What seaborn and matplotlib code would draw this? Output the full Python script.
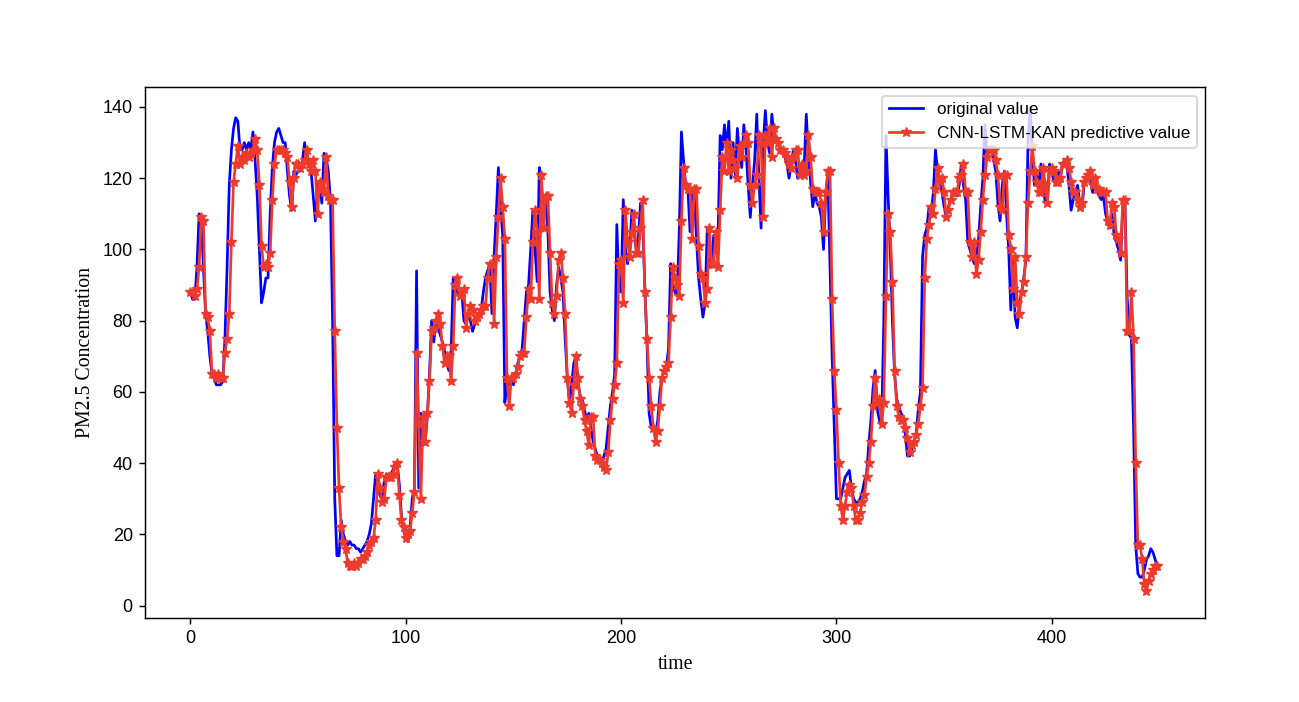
import matplotlib
matplotlib.use("Agg")
import matplotlib.pyplot as plt
import seaborn as sns
import pandas as pd

# PM2.5 series
original = [
    88, 86, 86, 95, 110, 109, 95, 82, 77, 70, 65, 64, 62, 62, 62, 63, 75, 95, 118, 128,
    134, 137, 136, 128, 128, 130, 128, 130, 128, 133, 125, 115, 100, 85, 88, 92, 92, 110, 123, 130,
    133,
    134, 132, 130, 130, 122, 115, 111, 122, 121, 122, 122, 125, 130, 125, 124, 122, 115, 108, 118, 119,
    113, 127, 126, 122, 114, 80, 30, 14, 14, 24, 20, 18, 17, 18, 17, 17, 16, 16, 15, 16,
    17, 18,
    20, 23, 30, 37, 35, 31, 30, 35, 37, 36, 37, 38, 40, 40, 34, 25, 21, 19, 18, 22,
    30, 33, 94, 33, 54, 45, 46, 53, 65, 80, 74, 80, 78, 76, 74, 72, 68, 66, 70, 92,
    90, 88,
    87, 88, 80, 79, 82, 80, 77, 79, 80, 82, 83, 88, 92, 94, 96, 82, 98, 110, 123, 112,
    104, 57, 63, 62, 64, 62, 65, 68, 70, 72, 80, 88, 90, 100, 111, 100, 91, 123, 118, 110,
    114,
    105, 88, 83, 80, 90, 95, 92, 88, 75, 64, 57, 62, 68, 70, 62, 59, 58, 55, 52, 54,
    50, 46, 44, 42, 41, 40, 42, 44, 50, 56, 60, 65, 107, 90, 88, 114, 100, 96, 100, 111,
    105, 100,
    103, 113, 108, 90, 74, 54, 50, 49, 48, 52, 60, 64, 66, 67, 72, 96, 90, 88, 87, 105,
    133, 125, 118, 117, 105, 117, 115, 103, 92, 86, 81, 85, 106, 95, 96, 104, 100, 103, 132, 128,
    135, 128,
    136, 120, 130, 121, 134, 126, 123, 135, 128, 118, 109, 118, 125, 138, 120, 106, 130, 139, 130, 127,
    138, 132, 130, 131, 128, 127, 126, 124, 120, 124, 128, 125, 120, 122, 121, 123, 138, 126, 119, 112,
    116, 113,
    112, 109, 100, 115, 121, 95, 70, 50, 30, 30, 30, 33, 36, 37, 38, 33, 30, 29, 29, 30,
    32, 35, 37, 45, 52, 61, 66, 55, 52, 51, 80, 132, 115, 100, 80, 65, 58, 56, 54, 53,
    48, 42,
    42, 44, 46, 48, 55, 60, 98, 104, 106, 112, 110, 116, 128, 122, 120, 116, 112, 109, 112, 114,
    115, 116, 115, 118, 124, 118, 114, 102, 100, 98, 96, 97, 103, 112, 120, 135, 126, 128, 129, 125,
    122, 113, 108, 118, 122, 110, 100, 83, 97, 81, 78, 85, 88, 92, 97, 131, 140,
    126, 118, 122, 116, 124, 118, 113, 114, 124, 122, 119, 121, 122, 120, 124, 125, 124, 118, 111, 114,
    116, 118, 113, 111, 118, 119, 122, 120, 116, 119, 117, 115, 114, 115, 110, 108, 106, 110, 104, 102,
    100, 97, 112, 113, 87, 76, 75, 50, 17, 9, 8, 8, 10, 13, 14, 16, 15, 13, 11,
]

predicted = [
    88, 88, 87, 89, 95, 109, 108, 82, 81, 77, 65, 65, 64, 65, 64, 64, 71, 75, 82, 102,
    119, 124, 129, 124, 126, 125, 127, 126, 127, 128, 131, 128, 118, 101, 95, 96, 95, 99, 114, 124,
    128,
    128, 128, 128, 127, 126, 119, 112, 120, 124, 124, 123, 124, 125, 128, 124, 122, 125, 122, 110, 119,
    117, 116, 126, 115, 114, 114, 77, 50, 33, 22, 18, 16, 12, 11, 11, 12, 11, 12, 13, 13,
    14, 15,
    17, 18, 19, 24, 37, 33, 29, 30, 36, 36, 36, 37, 39, 40, 31, 24, 22, 19, 20, 21,
    26, 32, 71, 51, 30, 53, 46, 54, 63, 77, 78, 80, 82, 79, 73, 68, 70, 70, 63, 73,
    90, 92,
    87, 88, 89, 78, 82, 84, 83, 80, 81, 82, 83, 84, 84, 92, 96, 96, 79, 98, 109, 120,
    112, 103, 64, 56, 64, 64, 65, 67, 70, 71, 71, 81, 89, 86, 102, 111, 105, 86, 121, 106,
    115,
    115, 99, 85, 82, 87, 97, 99, 92, 82, 64, 57, 54, 62, 70, 64, 58, 56, 52, 49, 45,
    53, 53, 42, 41, 41, 40, 39, 38, 43, 52, 58, 62, 68, 96, 97, 85, 111, 102, 98, 105,
    110, 99,
    99, 106, 114, 88, 75, 64, 56, 50, 46, 49, 56, 64, 66, 67, 68, 81, 95, 92, 90, 87,
    108, 123, 118, 117, 117, 103, 117, 117, 101, 93, 92, 85, 89, 106, 96, 96, 105, 95, 111, 126,
    122, 130,
    122, 128, 125, 123, 120, 129, 126, 130, 132, 130, 118, 113, 118, 121, 132, 130, 109, 132, 130, 134,
    126, 134, 131, 130, 128, 128, 127, 126, 124, 123, 126, 128, 128, 121, 124, 121, 122, 132, 126, 117,
    116, 116,
    116, 113, 105, 116, 122, 122, 86, 66, 55, 40, 28, 24, 28, 32, 34, 33, 28, 24, 24, 26,
    29, 31, 36, 40, 46, 56, 64, 57, 58, 51, 57, 87, 110, 105, 91, 66, 56, 53, 52, 52,
    50, 47,
    43, 45, 46, 48, 51, 56, 61, 92, 103, 107, 112, 110, 117, 123, 119, 120, 116, 109, 111, 114,
    116, 116, 116, 120, 121, 124, 116, 116, 102, 98, 102, 93, 97, 105, 114, 121, 126, 128, 128, 128,
    125, 121, 112, 111, 121, 121, 104, 100, 89, 98, 85, 82, 88, 91, 98, 113, 122,
    129, 122, 119, 116, 116, 123, 118, 113, 122, 123, 122, 119, 119, 120, 124, 124, 125, 123, 119, 116,
    116, 114, 112, 113, 119, 120, 121, 122, 118, 120, 117, 117, 116, 116, 116, 108, 107, 113, 112, 104,
    103, 99, 114, 114, 77, 77, 88, 75, 40, 17, 17, 13, 6, 4, 7, 9, 10, 11, 11,
]

if len(original) != len(predicted):
    raise ValueError(f"length mismatch {len(original)} vs {len(predicted)}")

time = list(range(len(original)))
df = pd.DataFrame({"time": time, "original": original, "predicted": predicted})

plt.rcParams["font.family"] = ["Liberation Sans", "DejaVu Sans"]

fig, ax = plt.subplots(figsize=(1299 / 130, 702 / 130), dpi=130)
fig.subplots_adjust(left=0.112, right=0.928, top=0.876, bottom=0.12)

sns.lineplot(x="time", y="original", data=df, color="blue", linewidth=1.5,
             label="original value", ax=ax)
sns.lineplot(x="time", y="predicted", data=df, color="#ee3a2c", linewidth=1.5,
             marker="*", markersize=5.5, markeredgecolor="#ee3a2c",
             label="CNN-LSTM-KAN predictive value", ax=ax)

ax.set_xlim(-20.9, 471.4)
ax.set_ylim(-3.4, 145.6)
ax.set_xlabel("time", family="Liberation Serif", fontsize=11)
ax.set_ylabel("PM2.5 Concentration", family="Liberation Serif", fontsize=11)
ax.set_yticks([0, 20, 40, 60, 80, 100, 120, 140])
ax.set_xticks([0, 100, 200, 300, 400])
ax.legend(loc="upper right", fontsize=9.5)

fig.savefig("out.png", dpi=130)
